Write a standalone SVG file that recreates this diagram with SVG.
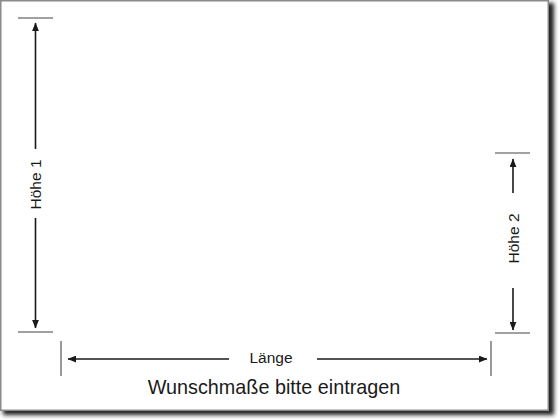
<svg xmlns="http://www.w3.org/2000/svg" width="560" height="420" viewBox="0 0 560 420">
  <defs>
    <filter id="shadow" x="-5%" y="-5%" width="110%" height="110%">
      <feGaussianBlur stdDeviation="2"/>
    </filter>
    <marker id="arrow" viewBox="0 0 10 8" refX="9.5" refY="4" markerWidth="9" markerHeight="7" markerUnits="userSpaceOnUse" orient="auto">
      <path d="M0,0 L10,4 L0,8 Z" fill="#1a1a1a"/>
    </marker>
    <style>
      .dim { stroke: #1a1a1a; stroke-width: 1.6; fill: none; }
      .arr { stroke: #1a1a1a; stroke-width: 1.6; fill: none; marker-end: url(#arrow); }
      .tick { stroke: #444; stroke-width: 1.1; fill: none; }
      .lbl { font-family: "Liberation Sans", Arial, sans-serif; font-size: 15.5px; fill: #1a1a1a; text-anchor: middle; }
      .cap { font-family: "Liberation Sans", Arial, sans-serif; font-size: 19.8px; fill: #1a1a1a; text-anchor: middle; }
    </style>
  </defs>

  <rect width="560" height="420" fill="#ffffff"/>
  <g id="frame">
    <rect x="3" y="3" width="551" height="412" fill="#222222" filter="url(#shadow)"/>
    <rect x="0.75" y="0.75" width="547.5" height="409.5" fill="#ffffff" stroke="#8a8a8a" stroke-width="1.5"/>
  </g>

  <g id="connectors">
    <!-- Höhe 1 -->
    <line class="tick" x1="18" y1="18" x2="53" y2="18"/>
    <line class="tick" x1="18" y1="332" x2="53" y2="332"/>
    <line class="arr" x1="35.5" y1="149" x2="35.5" y2="23"/>
    <line class="arr" x1="35.5" y1="218" x2="35.5" y2="328"/>
    <!-- Höhe 2 -->
    <line class="tick" x1="495" y1="153" x2="530" y2="153"/>
    <line class="tick" x1="495" y1="333" x2="530" y2="333"/>
    <line class="arr" x1="513" y1="193" x2="513" y2="159"/>
    <line class="arr" x1="513" y1="288" x2="513" y2="330"/>
    <!-- Länge -->
    <line class="tick" x1="61" y1="341" x2="61" y2="376"/>
    <line class="tick" x1="491" y1="341" x2="491" y2="376"/>
    <line class="arr" x1="229" y1="359" x2="68" y2="359"/>
    <line class="arr" x1="317" y1="359" x2="487" y2="359"/>
  </g>

  <g id="hoehe1">
    <text class="lbl" transform="translate(41,184.5) rotate(-90)">Höhe 1</text>
  </g>
  <g id="hoehe2">
    <text class="lbl" transform="translate(519,238.5) rotate(-90)">Höhe 2</text>
  </g>
  <g id="laenge">
    <text class="lbl" x="271" y="363">Länge</text>
  </g>
  <g id="caption">
    <text class="cap" x="274" y="394">Wunschmaße bitte eintragen</text>
  </g>
</svg>
